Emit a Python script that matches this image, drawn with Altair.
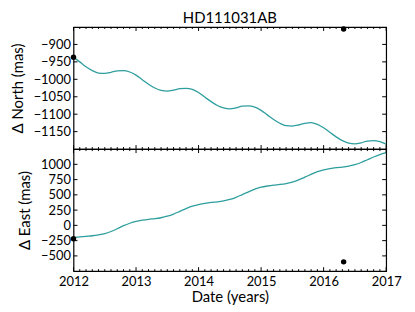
import altair as alt
import pandas as pd

# ---- data ----
years = [2012.0, 2012.1, 2012.2, 2012.3, 2012.4, 2012.5, 2012.6, 2012.7, 2012.8, 2012.9,
         2013.0, 2013.1, 2013.2, 2013.3, 2013.4, 2013.5, 2013.6, 2013.7, 2013.8, 2013.9,
         2014.0, 2014.1, 2014.2, 2014.3, 2014.4, 2014.5, 2014.6, 2014.7, 2014.8, 2014.9,
         2015.0, 2015.1, 2015.2, 2015.3, 2015.4, 2015.5, 2015.6, 2015.7, 2015.8, 2015.9,
         2016.0, 2016.1, 2016.2, 2016.3, 2016.4, 2016.5, 2016.6, 2016.7, 2016.8, 2016.9,
         2017.0]
north = [-937, -950, -964, -975, -982, -983, -980, -976, -975, -979,
         -988, -1001, -1014, -1025, -1032, -1034, -1031, -1027, -1026, -1029,
         -1038, -1051, -1064, -1075, -1082, -1085, -1082, -1077, -1076, -1080,
         -1089, -1102, -1115, -1126, -1133, -1134, -1131, -1126, -1124, -1129,
         -1139, -1152, -1165, -1176, -1183, -1185, -1182, -1177, -1176, -1179,
         -1186]
east = [-200, -190, -180, -170, -155, -135, -100, -55, -5, 35,
        65, 85, 100, 110, 125, 150, 185, 230, 275, 315,
        340, 360, 375, 385, 400, 425, 460, 505, 550, 595,
        625, 645, 660, 670, 685, 710, 745, 790, 835, 880,
        910, 930, 945, 955, 970, 995, 1030, 1075, 1120, 1160,
        1190]
obs_year = [2012.0, 2016.32]
obs_north = [-937, -856]
obs_east = [-220, -598]

x_major = [2012, 2013, 2014, 2015, 2016, 2017]
x_minor = [2012.1, 2012.2, 2012.3, 2012.4, 2012.5, 2012.6, 2012.7, 2012.8, 2012.9,
           2013.1, 2013.2, 2013.3, 2013.4, 2013.5, 2013.6, 2013.7, 2013.8, 2013.9,
           2014.1, 2014.2, 2014.3, 2014.4, 2014.5, 2014.6, 2014.7, 2014.8, 2014.9,
           2015.1, 2015.2, 2015.3, 2015.4, 2015.5, 2015.6, 2015.7, 2015.8, 2015.9,
           2016.1, 2016.2, 2016.3, 2016.4, 2016.5, 2016.6, 2016.7, 2016.8, 2016.9]
north_ticks = [-1150, -1100, -1050, -1000, -950, -900]
east_ticks = [-500, -250, 0, 250, 500, 750, 1000]

W, H = 315, 123
FONT = "Lato"
TEAL = "#2e9e9e"

xs = alt.Scale(domain=[2012, 2017], nice=False, zero=False)


def panel(vals, obs_vals, yticks, ydomain, ytitle, show_x):
    df = pd.DataFrame({"x": years, "y": vals})
    dobs = pd.DataFrame({"x": obs_year, "y": obs_vals})
    ys = alt.Scale(domain=ydomain, nice=False, zero=False)
    if show_x:
        xaxis = alt.Axis(values=x_major, format="d", ticks=False, domain=False, grid=False,
                         labelFlush=False, labelPadding=4, title="Date (years)", titlePadding=2)
    else:
        xaxis = None
    yaxis = alt.Axis(values=yticks, format="d", ticks=False, domain=False, grid=False,
                     labelPadding=3, title=ytitle, titlePadding=8)

    X = alt.X("x:Q", scale=xs, axis=xaxis)
    Y = alt.Y("y:Q", scale=ys, axis=yaxis)

    line = alt.Chart(df).mark_line(color=TEAL, strokeWidth=1.3, interpolate="monotone").encode(x=X, y=Y)
    pts = alt.Chart(dobs).mark_circle(color="black", size=30, opacity=1).encode(x=X, y=Y)

    layers = [line, pts]
    for vals_t, L in ((x_major, 4), (x_minor, 2)):
        d = pd.DataFrame({"x": vals_t})
        layers.append(alt.Chart(d).mark_rule(color="black", strokeWidth=1).encode(
            x=X, y=alt.value(0), y2=alt.value(L)))
        layers.append(alt.Chart(d).mark_rule(color="black", strokeWidth=1).encode(
            x=X, y=alt.value(H), y2=alt.value(H - L)))
    dy = pd.DataFrame({"y": yticks})
    layers.append(alt.Chart(dy).mark_rule(color="black", strokeWidth=1).encode(
        y=Y, x=alt.value(0), x2=alt.value(4)))
    layers.append(alt.Chart(dy).mark_rule(color="black", strokeWidth=1).encode(
        y=Y, x=alt.value(W), x2=alt.value(W - 4)))

    return alt.layer(*layers).properties(width=W, height=H)


top = panel(north, obs_north, north_ticks, [-1200, -850], "Δ North (mas)", False).properties(
    title=alt.TitleParams("HD111031AB", fontSize=15, font=FONT, fontWeight="normal",
                          color="black", offset=0)
)
bottom = panel(east, obs_east, east_ticks, [-750, 1250], "Δ East (mas)", True)

chart = alt.vconcat(top, bottom, spacing=0, bounds="flush").properties(
    padding={"left": 1, "top": 1, "right": 5, "bottom": 2}
).configure_axis(
    labelFont=FONT, titleFont=FONT, labelFontSize=13, titleFontSize=15,
    titleFontWeight="normal", labelColor="black", titleColor="black"
).configure_view(
    stroke="black", strokeWidth=1.2
)

chart.save("out.html", embed_options={"renderer": "svg", "actions": False})
